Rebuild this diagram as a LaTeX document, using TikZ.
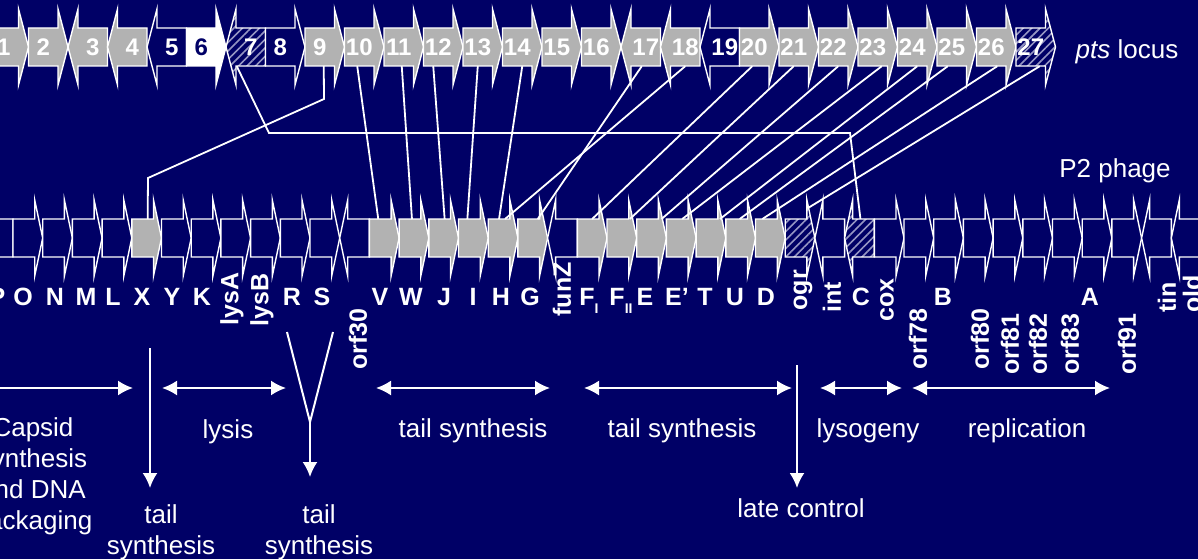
\documentclass[tikz,border=0pt]{standalone}
\usepackage{fontspec}
\setmainfont{Liberation Sans}
\usetikzlibrary{arrows.meta,patterns.meta}

\definecolor{bg}{RGB}{0,0,102}
\definecolor{genegrey}{RGB}{178,178,178}
\definecolor{hatchcol}{RGB}{150,150,195}

\tikzset{
  gene/.style={draw=white,line width=1.4pt,fill=bg},
  greygene/.style={gene,fill=genegrey},
  whitegene/.style={gene,fill=white},
  hatchgene/.style={draw=white,line width=1.4pt,preaction={fill=bg},
    pattern={Lines[angle=45,distance=6pt,line width=1.6pt]},pattern color=hatchcol},
  toplab/.style={inner sep=0pt,minimum width=29.5pt,minimum height=38pt,
    text=white,font=\fontsize{24}{28}\selectfont\bfseries},
  midlab/.style={inner sep=0pt,text=white,font=\fontsize{25}{30}\selectfont\bfseries},
  rotlab/.style={midlab,rotate=90,anchor=east},
  info/.style={inner sep=0pt,text=white,font=\fontsize{26}{31}\selectfont,align=center},
  link/.style={white,line width=1.8pt},
  span/.style={white,line width=2pt},
}

% top row (pts locus): index, style, label
\newcommand{\topR}[3]{%
  \pgfmathsetmacro{\gx}{-11+(#1-1)*39.5}
  \draw[#2] (\gx,28) -- ++(29.5,0) -- ++(0,-19) -- ++(10,38) -- ++(-10,38) -- ++(0,-19) -- ++(-29.5,0) -- cycle;
  \node[toplab] (t#1) at (\gx+14.75,47) {#3};}
\newcommand{\topL}[3]{%
  \pgfmathsetmacro{\gx}{-11+(#1-1)*39.5}
  \draw[#2] (\gx+39.5,28) -- ++(-29.5,0) -- ++(0,-19) -- ++(-10,38) -- ++(10,38) -- ++(0,-19) -- ++(29.5,0) -- cycle;
  \node[toplab] (t#1) at (\gx+24.75,47) {#3};}

% middle row (P2 phage): slot, style, name
\newcommand{\midR}[3]{%
  \pgfmathsetmacro{\gx}{13+(#1)*29.7}
  \draw[#2] (\gx,219) -- ++(21.7,0) -- ++(0,-19) -- ++(8,38) -- ++(-8,38) -- ++(0,-19) -- ++(-21.7,0) -- cycle;
  \coordinate (m#3) at (\gx+10.85,219);}
\newcommand{\midL}[3]{%
  \pgfmathsetmacro{\gx}{13+(#1)*29.7}
  \draw[#2] (\gx+29.7,219) -- ++(-21.7,0) -- ++(0,-19) -- ++(-8,38) -- ++(8,38) -- ++(0,-19) -- ++(21.7,0) -- cycle;
  \coordinate (m#3) at (\gx+18.85,219);}

\begin{document}
\begin{tikzpicture}[x=1pt,y=-1pt,>={Latex[length=15pt,width=15pt]}]
    \fill[bg] (0,0) rectangle (1198,559);
    \useasboundingbox (0,0) rectangle (1198,559);

    % pts locus
    \topR{1}{greygene}{1}
    \topR{2}{greygene}{2}
    \topL{3}{greygene}{3}
    \topL{4}{greygene}{4}
    \topL{5}{gene}{5}
    \topR{6}{whitegene}{\color{bg}6}
    \topL{7}{hatchgene}{7}
    \topR{8}{gene}{8}
    \topR{9}{greygene}{9}
    \topR{10}{greygene}{10}
    \topR{11}{greygene}{11}
    \topR{12}{greygene}{12}
    \topR{13}{greygene}{13}
    \topR{14}{greygene}{14}
    \topR{15}{greygene}{15}
    \topR{16}{greygene}{16}
    \topL{17}{greygene}{17}
    \topL{18}{greygene}{18}
    \topL{19}{gene}{19}
    \topR{20}{greygene}{20}
    \topR{21}{greygene}{21}
    \topR{22}{greygene}{22}
    \topR{23}{greygene}{23}
    \topR{24}{greygene}{24}
    \topR{25}{greygene}{25}
    \topR{26}{greygene}{26}
    \topR{27}{hatchgene}{27}
    \node[info,anchor=base] (ptslab) at (1127,59) {\textit{pts} locus};

    % P2 phage
    \midL{-1}{gene}{P}
    \midR{0}{gene}{O}
    \midR{1}{gene}{N}
    \midR{2}{gene}{M}
    \midR{3}{gene}{L}
    \midR{4}{greygene}{X}
    \midR{5}{gene}{Y}
    \midR{6}{gene}{K}
    \midR{7}{gene}{lysA}
    \midR{8}{gene}{lysB}
    \midR{9}{gene}{R}
    \midR{10}{gene}{S}
    \midL{11}{gene}{orf30}
    \midR{12}{greygene}{V}
    \midR{13}{greygene}{W}
    \midR{14}{greygene}{J}
    \midR{15}{greygene}{I}
    \midR{16}{greygene}{H}
    \midR{17}{greygene}{G}
    \midL{18}{gene}{funZ}
    \midR{19}{greygene}{FI}
    \midR{20}{greygene}{FII}
    \midR{21}{greygene}{E}
    \midR{22}{greygene}{Ep}
    \midR{23}{greygene}{T}
    \midR{24}{greygene}{U}
    \midR{25}{greygene}{D}
    \midR{26}{hatchgene}{ogr}
    \midL{27}{gene}{int}
    \midL{28}{hatchgene}{C}
    \midR{29}{gene}{cox}
    \midR{30}{gene}{orf78}
    \midR{31}{gene}{B}
    \midR{32}{gene}{orf80}
    \midR{33}{gene}{orf81}
    \midR{34}{gene}{orf82}
    \midR{35}{gene}{orf83}
    \midR{36}{gene}{A}
    \midR{37}{gene}{orf91}
    \midL{38}{gene}{tin}
    \midL{39}{gene}{old}
    \node[info,anchor=base] (p2lab) at (1115,177) {P2 phage};

    % gene names
    \node[midlab,anchor=base] (lP) at (-3,305) {P};
    \node[midlab,anchor=base] (lO) at (23,305) {O};
    \node[midlab,anchor=base] (lN) at (55,305) {N};
    \node[midlab,anchor=base] (lM) at (86,305) {M};
    \node[midlab,anchor=base] (lL) at (113,305) {L};
    \node[midlab,anchor=base] (lX) at (142,305) {X};
    \node[midlab,anchor=base] (lY) at (172,305) {Y};
    \node[midlab,anchor=base] (lK) at (202,305) {K};
    \node[rotlab] (llysA) at (232,272) {lysA};
    \node[rotlab] (llysB) at (262,273) {lysB};
    \node[midlab,anchor=base] (lR) at (292,305) {R};
    \node[midlab,anchor=base] (lS) at (322,305) {S};
    \node[rotlab] (lorf30) at (358,308) {orf30};
    \node[midlab,anchor=base] (lV) at (380,305) {V};
    \node[midlab,anchor=base] (lW) at (411,305) {W};
    \node[midlab,anchor=base] (lJ) at (444,305) {J};
    \node[midlab,anchor=base] (lI) at (473,305) {I};
    \node[midlab,anchor=base] (lH) at (501,305) {H};
    \node[midlab,anchor=base] (lG) at (530,305) {G};
    \node[rotlab] (lfunZ) at (562,262) {funZ};
    \node[midlab,anchor=base] (lFI) at (589,305) {F\raisebox{-8pt}{\fontsize{14}{14}\selectfont I}};
    \node[midlab,anchor=base] (lFII) at (621,305) {F\raisebox{-8pt}{\fontsize{14}{14}\selectfont II}};
    \node[midlab,anchor=base] (lE) at (645,305) {E};
    \node[midlab,anchor=base] (lEp) at (677,305) {E’};
    \node[midlab,anchor=base] (lT) at (705,305) {T};
    \node[midlab,anchor=base] (lU) at (735,305) {U};
    \node[midlab,anchor=base] (lD) at (766,305) {D};
    \node[rotlab] (logr) at (803,270) {ogr};
    \node[rotlab] (lint) at (832,282) {int};
    \node[midlab,anchor=base] (lC) at (861,305) {C};
    \node[rotlab] (lcox) at (887,278) {cox};
    \node[rotlab] (lorf78) at (918,308) {orf78};
    \node[midlab,anchor=base] (lB) at (943,305) {B};
    \node[rotlab] (lorf80) at (980,308) {orf80};
    \node[rotlab] (lorf81) at (1010,313) {orf81};
    \node[rotlab] (lorf82) at (1038,313) {orf82};
    \node[rotlab] (lorf83) at (1070,313) {orf83};
    \node[midlab,anchor=base] (lA) at (1090,305) {A};
    \node[rotlab] (lorf91) at (1127,313) {orf91};
    \node[rotlab] (ltin) at (1167,282) {tin};
    \node[rotlab] (lold) at (1192,275) {old};

    % pts genes to P2 genes
    \coordinate (k9a) at (324,99);
    \coordinate (k9b) at (148,178);
    \draw[link] ([xshift=4pt]t9.south) -- (k9a) -- (k9b) -- ([xshift=5pt]mX);
    \coordinate (k7a) at (269,133);
    \coordinate (k7b) at (850,133);
    \draw[link] ([xshift=-14pt]t7.south) -- (k7a) -- (k7b) -- ([xshift=-3pt]mC);
    \draw[link] ([xshift=-2pt]t10.south) -- ([xshift=-2pt]mV);
    \draw[link] ([xshift=3pt]t11.south) -- ([xshift=2pt]mW);
    \draw[link] ([xshift=-5pt]t12.south) -- ([xshift=5pt]mJ);
    \draw[link] (t13.south) -- ([xshift=-2pt]mI);
    \draw[link] ([xshift=5pt]t14.south) -- (mH);
    \draw[link] ([xshift=-4pt]t17.south) -- ([xshift=9pt]mG);
    \draw[link] (t18.south) -- ([xshift=6pt]mH);
    \draw[link] ([xshift=-2pt]t20.south) -- ([xshift=4pt]mFI);
    \draw[link] (t21.south) -- ([xshift=12pt]mFII);
    \draw[link] ([xshift=5pt]t22.south) -- ([xshift=14pt]mE);
    \draw[link] ([xshift=9pt]t23.south) -- ([xshift=5pt]mEp);
    \draw[link] ([xshift=5pt]t24.south) -- ([xshift=13pt]mT);
    \draw[link] ([xshift=-4pt]t25.south) -- ([xshift=3pt]mU);
    \draw[link] ([xshift=6pt]t26.south) -- ([xshift=-4pt]mD);
    \draw[link] ([xshift=9pt]t27.south) -- ([xshift=12pt,yshift=11pt]mogr);

    % functions
    \coordinate (capL) at (-5,388);
    \coordinate (capR) at (133,388);
    \draw[span,->] (capL) -- (capR);
    \node[info,anchor=north] (capsid) at (33,417) {Capsid\\synthesis\\and DNA\\packaging};

    \coordinate (xtop) at (150,348);
    \coordinate (xbot) at (150,488);
    \draw[span,->] (xtop) -- (xbot);
    \node[info,anchor=north] (tailX) at (161,504) {tail\\synthesis};

    \coordinate (lysL) at (162,388);
    \coordinate (lysR) at (286,388);
    \draw[span,<->] (lysL) -- (lysR);
    \node[info,anchor=base] (lysis) at (228,438) {lysis};

    \coordinate (rsL) at (287,332);
    \coordinate (rsR) at (333,332);
    \coordinate (rsJ) at (310,422);
    \coordinate (rsB) at (310,477);
    \draw[span] (rsL) -- (rsJ) -- (rsR);
    \draw[span,->] (rsJ) -- (rsB);
    \node[info,anchor=north] (tailRS) at (319,504) {tail\\synthesis};

    \coordinate (tailAL) at (376,388);
    \coordinate (tailAR) at (550,388);
    \draw[span,<->] (tailAL) -- (tailAR);
    \node[info,anchor=base] (tailA) at (473,437) {tail synthesis};

    \coordinate (tailBL) at (584,388);
    \coordinate (tailBR) at (792,388);
    \draw[span,<->] (tailBL) -- (tailBR);
    \node[info,anchor=base] (tailB) at (682,437) {tail synthesis};

    \coordinate (lateT) at (797,365);
    \coordinate (lateB) at (797,488);
    \draw[span,->] (lateT) -- (lateB);
    \node[info,anchor=base] (latectl) at (801,517) {late control};

    \coordinate (lysoL) at (820,388);
    \coordinate (lysoR) at (902,388);
    \draw[span,<->] (lysoL) -- (lysoR);
    \node[info,anchor=base] (lysogeny) at (868,437) {lysogeny};

    \coordinate (repL) at (912,388);
    \coordinate (repR) at (1110,388);
    \draw[span,<->] (repL) -- (repR);
    \node[info,anchor=base] (replication) at (1027,437) {replication};
\end{tikzpicture}
\end{document}
